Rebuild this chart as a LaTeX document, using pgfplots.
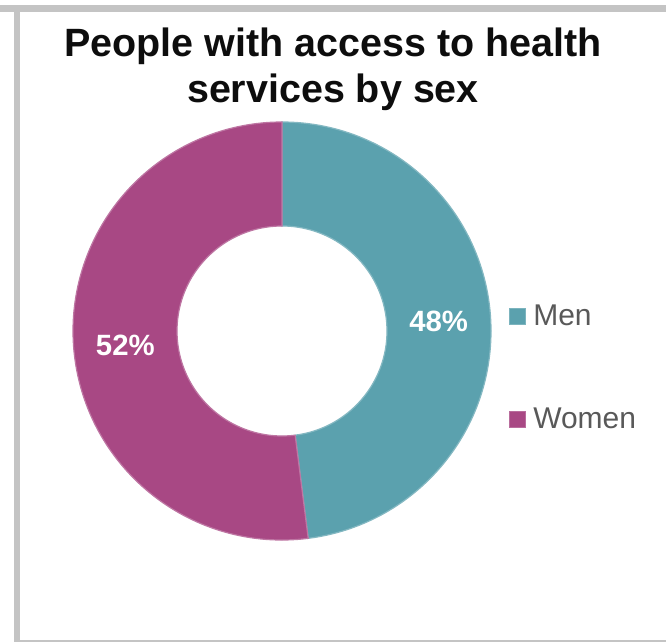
\documentclass[border=0pt]{standalone}
\usepackage{fontspec}
\setmainfont{Liberation Sans}
\usepackage{pgfplots}
\usepackage{pgfplotstable}
\pgfplotsset{compat=1.18}
\definecolor{menc}{RGB}{91,161,174}
\definecolor{womc}{RGB}{168,72,132}
\definecolor{framec}{RGB}{196,196,196}
\definecolor{legtext}{RGB}{89,89,89}
\definecolor{titlec}{RGB}{13,13,13}
\pgfplotstableread{
sex share
Men 48
Women 52
}\sexdata
\begin{document}
\begin{tikzpicture}
\pgfplotstablegetelem{0}{share}\of\sexdata \global\let\menv\pgfplotsretval
\pgfplotstablegetelem{1}{share}\of\sexdata \global\let\womv\pgfplotsretval
\pgfmathsetmacro\aA{90}
\pgfmathsetmacro\aB{90-3.6*\menv}
\pgfmathsetmacro\aC{\aB-3.6*\womv}
\pgfmathsetmacro\mA{(\aA+\aB)/2}
\pgfmathsetmacro\mB{(\aB+\aC)/2}
\begin{axis}[width=499.5pt,height=481.5pt,scale only axis,
  xmin=0,xmax=666,ymin=0,ymax=642,hide axis,clip=false]
\path (axis cs:0,0) rectangle (axis cs:666,642);
% frame
\fill[framec] (axis cs:0,630) rectangle (axis cs:666,637);
\fill[framec] (axis cs:14,0) rectangle (axis cs:20,630);
\fill[framec] (axis cs:14,0) rectangle (axis cs:666,2);
% title
\node[font=\bfseries\fontsize{29.6}{34}\selectfont, text=titlec, anchor=base] at (axis cs:333,585) {People with access to health};
\node[font=\bfseries\fontsize{29.6}{34}\selectfont, text=titlec, anchor=base] at (axis cs:333,539) {services by sex};
% donut
\fill[menc, draw=menc!75!white, line width=0.9pt]
  (axis cs:{282+209*cos(\aA)},{311+209*sin(\aA)}) arc[start angle=\aA, end angle=\aB, radius=156.75pt]
  -- (axis cs:{282+105*cos(\aB)},{311+105*sin(\aB)}) arc[start angle=\aB, end angle=\aA, radius=78.75pt] -- cycle;
\fill[womc, draw=womc!75!white, line width=0.9pt]
  (axis cs:{282+209*cos(\aB)},{311+209*sin(\aB)}) arc[start angle=\aB, end angle=\aC, radius=156.75pt]
  -- (axis cs:{282+105*cos(\aC)},{311+105*sin(\aC)}) arc[start angle=\aC, end angle=\aB, radius=78.75pt] -- cycle;
% labels
\node[text=white, font=\bfseries\fontsize{22}{26}\selectfont] at (axis cs:{282+157*cos(\mA)},{311+157*sin(\mA)}) {\menv\%};
\node[text=white, font=\bfseries\fontsize{22}{26}\selectfont] at (axis cs:{282+157*cos(\mB)},{306+157*sin(\mB)}) {\womv\%};
% legend
\fill[menc, draw=menc!80!white, line width=0.6pt] (axis cs:509,318) rectangle (axis cs:525,334);
\fill[womc, draw=womc!80!white, line width=0.6pt] (axis cs:509,215) rectangle (axis cs:525,231);
\node[text=legtext, font=\fontsize{22.5}{27}\selectfont, anchor=base west, inner sep=0pt] at (axis cs:533,316) {Men};
\node[text=legtext, font=\fontsize{22.5}{27}\selectfont, anchor=base west, inner sep=0pt] at (axis cs:533,213) {Women};
\end{axis}
\end{tikzpicture}
\end{document}
